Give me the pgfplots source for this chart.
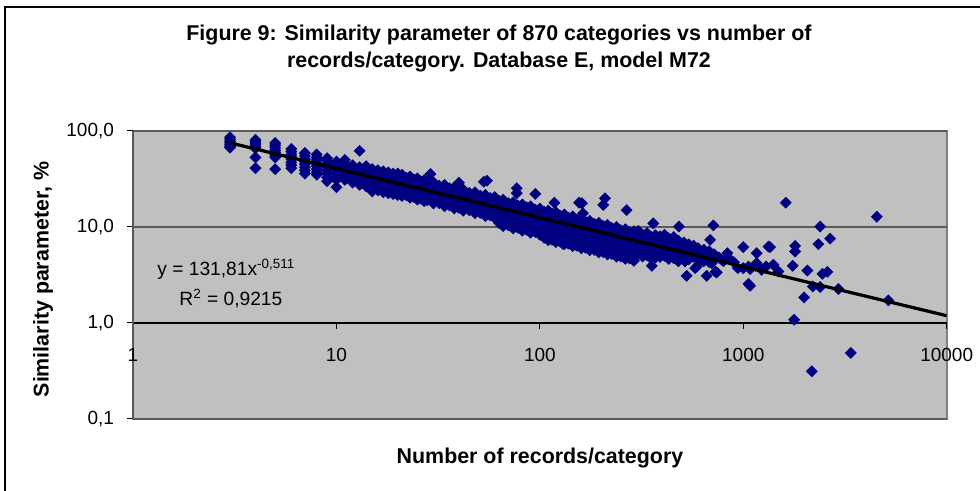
\documentclass[border=0pt]{standalone}
\usepackage{pgfplots}
\pgfplotsset{compat=1.18}
\usepackage{fontspec}
\setmainfont{Liberation Sans}
\definecolor{plotgray}{RGB}{192,192,192}
\definecolor{navymark}{RGB}{0,0,128}
\definecolor{bordergray}{RGB}{128,128,128}
\definecolor{gridgray}{RGB}{90,90,90}

\begin{document}
\begin{tikzpicture}[x=1pt,y=1pt]
\path[use as bounding box] (0,0) rectangle (490,245.5);
% chart frame (cropped on the right and bottom)
\draw[line width=0.8pt] (2.5,0) -- (2.5,242) -- (490,242);

\begin{axis}[
    at={(66.5pt,36pt)}, anchor=south west,
    scale only axis, width=406.85pt, height=144pt,
    xmode=log, ymode=log,
    xmin=1, xmax=10000, ymin=0.1, ymax=100,
    clip marker paths=true,
    axis x line*=middle, axis y line*=left,
    x axis line style={black, line width=0.6pt, -},
    y axis line style={gridgray, line width=0.8pt, -},
    axis background/.style={fill=plotgray, draw=bordergray, line width=0.8pt},
    xtick={1,10,100,1000,10000},
    xticklabels={1,10,100,1000,10000},
    ytick={0.1,1,10,100},
    yticklabels={{0,1},{1,0},{10,0},{100,0}},
    xminorticks=false, yminorticks=false,
    hide obscured x ticks=false, hide obscured y ticks=false,
    tick align=outside,
    major tick length=3pt,
    tick style={black, line width=0.5pt},
    ymajorgrids, major grid style={gridgray, line width=0.6pt},
    tick label style={font=\fontsize{9.5}{11}\selectfont},
    xticklabel style={yshift=-6pt},
    yticklabel style={xshift=-3pt},
]
% categories: records/category vs similarity parameter (%)
\addplot[only marks, mark=square*, mark size=1.9pt,
    mark options={rotate=45, draw=navymark, fill=navymark}] coordinates {
(3,86)(3,82)(3,78)(3,75)(3,72)(3,69)(3,67)
(4,81)(4,77)(4,73)(4,69)(4,66)(4,53)(4,41)
(5,75)(5,71)(5,67)(5,63)(5,60)(5,56)(5,53)(5,40)
(6,65)(6,61)(6,57)(6,54)(6,51)(6,47)(6,44)(6,41)
(7,59)(7,55)(7,51)(7,48)(7,45)(7,42)(7,39)(7,36)
(8,57)(8,53)(8,50)(8,46)(8,43)(8,40)(8,37)(8,35)
(9,52)(9,49)(9,45)(9,42)(9,39)(9,36)(9,33)(9,30)
(10,48)(10,45)(10,42)(10,39)(10,36)(10,33)(10,31)(10,26)
(11,50)(11,46)(11,43)(11,40)(11,37)(11,34)(11,31)
(12,44)(12,41)(12,38)(12,35)(12,32)(12,29)
(13,62)(13,42)(13,39)(13,36)(13,33)(13,30)(13,27.5)
(14,43)(14,40)(14,37)(14,34)(14,31)(14,28)(14,26.5)
(15,40)(15,37)(15,34)(15,31)(15,28)(15,25)(15,23.5)
(16,39)(16,36)(16,33)(16,30)(16,27)(16,24)
(17,38)(17,35)(17,32)(17,29)(17,26)(17,23)
(18,37)(18,34)(18,31)(18,28)(18,25)(18,22.5)
(19,36)(19,33)(19,30)(19,27)(19,24.5)(19,22)
(20,36)(20,33)(20,30)(20,27)(20,24)(20,21.5)
(21,35.0)(21,31.4)(21,28.4)(21,25.6)(21,23.1)(21,21.1)
(22,32.6)(22,29.3)(22,26.4)(22,23.6)(22,21.5)
(23,33.5)(23,30.0)(23,27.1)(23,24.4)(23,22.0)(23,20.2)
(24,31.2)(24,28.1)(24,25.2)(24,22.6)(24,20.5)
(25,32.1)(25,28.7)(25,25.9)(25,23.4)(25,21.1)(25,19.3)
(26,29.9)(26,26.9)(26,24.2)(26,21.7)(26,19.7)
(27,30.8)(27,27.6)(27,24.9)(27,22.5)(27,20.3)(27,18.6)
(28,28.8)(28,25.9)(28,23.3)(28,20.9)(28,19.0)
(29,35.6)
(30,29.2)(30,26.2)(30,23.7)(30,21.3)(30,19.2)(30,17.6)
(32,26.9)(32,24.2)(32,21.8)(32,19.5)(32,17.7)
(34,27.4)(34,24.6)(34,22.2)(34,20.0)(34,18.1)(34,16.5)
(36,25.3)(36,22.8)(36,20.5)(36,18.4)(36,16.7)
(38,25.9)(38,23.2)(38,21.0)(38,18.9)(38,17.1)(38,15.6)
(40,28.9)(40,24.0)(40,21.6)(40,19.4)(40,17.4)(40,15.8)
(42,24.6)(42,22.1)(42,19.9)(42,18.0)(42,16.2)(42,14.8)
(45,22.6)(45,20.4)(45,18.3)(45,16.4)(45,14.9)
(48,23.0)(48,20.6)(48,18.6)(48,16.8)(48,15.1)(48,13.9)
(51,21.2)(51,19.1)(51,17.1)(51,15.4)(51,14.0)
(53,29.6)(55,30.3)
(54,21.6)(54,19.4)(54,17.5)(54,15.8)(54,14.2)(54,13.0)
(57,20.0)(57,18.0)(57,16.2)(57,14.5)(57,13.2)
(60,20.5)(60,18.4)(60,16.6)(60,15.0)(60,13.5)(60,12.4)
(63,18.7)(63,16.7)(63,14.9)(63,13.5)(63,12.2)(63,11.0)
(66,19.2)(66,17.2)(66,15.5)(66,13.9)(66,12.5)(66,11.3)(66,10.2)
(70,17.7)(70,15.8)(70,14.1)(70,12.8)(70,11.6)(70,10.4)
(74,18.1)(74,16.2)(74,14.6)(74,13.2)(74,11.8)(74,10.7)(74,9.65)
(77,25.3)(77,22.5)
(78,16.8)(78,14.9)(78,13.4)(78,12.1)(78,10.9)(78,9.81)
(82,17.2)(82,15.4)(82,13.9)(82,12.5)(82,11.2)(82,10.1)(82,9.15)
(86,16.0)(86,14.2)(86,12.7)(86,11.5)(86,10.4)(86,9.34)
(90,16.4)(90,14.7)(90,13.2)(90,11.9)(90,10.7)(90,9.65)(90,8.73)
(95,22.1)
(95,15.2)(95,13.5)(95,12.1)(95,10.9)(95,9.90)(95,8.87)
(100,15.5)(100,13.9)(100,12.5)(100,11.3)(100,10.1)(100,9.15)(100,8.27)
(105,14.4)(105,13.0)(105,11.7)(105,10.5)(105,9.53)(105,8.55)(105,7.70)
(110,14.8)(110,13.4)(110,12.1)(110,10.9)(110,9.79)(110,8.84)(110,8.00)(110,7.28)
(115,13.8)(115,12.4)(115,11.2)(115,10.0)(115,9.10)(115,8.17)(115,7.35)
(118,17.9)
(120,14.2)(120,12.8)(120,11.5)(120,10.4)(120,9.36)(120,8.45)(120,7.65)(120,6.97)
(126,13.1)(126,11.8)(126,10.7)(126,9.58)(126,8.69)(126,7.80)(126,7.02)
(130,6.67)
(132,13.5)(132,12.2)(132,11.0)(132,9.90)(132,8.92)(132,8.05)(132,7.29)(132,6.64)
(138,12.5)(138,11.3)(138,10.2)(138,9.14)(138,8.29)(138,7.44)(138,6.70)
(145,12.9)(145,11.6)(145,10.5)(145,9.44)(145,8.50)(145,7.67)(145,6.95)(145,6.33)
(152,11.9)(152,10.7)(152,9.72)(152,8.70)(152,7.89)(152,7.08)(152,6.38)
(156,17.9)(161,17.7)(163,13.9)
(160,12.2)(160,11.0)(160,9.96)(160,8.97)(160,8.08)(160,7.29)(160,6.60)(160,6.01)
(168,11.3)(168,10.2)(168,9.23)(168,8.27)(168,7.50)(168,6.73)(168,6.06)
(176,11.6)(176,10.5)(176,9.48)(176,8.54)(176,7.70)(176,6.95)(176,6.29)(176,5.73)
(185,10.8)(185,9.70)(185,8.78)(185,7.87)(185,7.14)(185,6.41)(185,5.77)
(195,11.0)(195,9.98)(195,9.00)(195,8.11)(195,7.31)(195,6.59)(195,5.97)(195,5.43)
(205,17.0)(209,19.9)
(205,10.2)(205,9.21)(205,8.34)(205,7.47)(205,6.77)(205,6.08)(205,5.47)
(215,10.5)(215,9.49)(215,8.56)(215,7.71)(215,6.95)(215,6.27)(215,5.68)(215,5.17)
(226,9.75)(226,8.76)(226,7.93)(226,7.11)(226,6.44)(226,5.78)(226,5.21)
(233,5.42)
(238,9.98)(238,9.01)(238,8.13)(238,7.32)(238,6.60)(238,5.95)(238,5.39)(238,4.91)
(250,9.26)(250,8.32)(250,7.53)(250,6.75)(250,6.12)(250,5.49)(250,4.94)
(258,4.86)(267,15.0)
(263,9.48)(263,8.56)(263,7.72)(263,6.96)(263,6.27)(263,5.66)(263,5.12)(263,4.66)
(276,8.80)(276,7.91)(276,7.16)(276,6.42)(276,5.82)(276,5.22)(276,4.70)
(282,4.74)
(290,9.02)(290,8.15)(290,7.35)(290,6.62)(290,5.96)(290,5.38)(290,4.87)(290,4.44)
(305,9.07)(305,7.94)(305,6.95)(305,6.10)(305,5.32)
(320,8.30)(320,7.26)(320,6.36)(320,5.53)(320,4.91)
(336,8.64)(336,7.56)(336,6.61)(336,5.80)(336,5.06)
(353,7.89)(353,6.91)(353,6.05)(353,5.26)(353,4.67)
(355,3.94)(361,10.9)
(370,8.22)(370,7.19)(370,6.29)(370,5.52)(370,4.82)
(390,8.00)(390,7.06)(390,6.25)(390,5.50)(390,4.88)
(410,8.29)(410,7.31)(410,6.46)(410,5.67)(410,5.00)
(430,7.61)(430,6.72)(430,5.95)(430,5.23)(430,4.64)
(455,7.86)(455,6.93)(455,6.12)(455,5.37)(455,4.74)
(480,7.20)(480,6.35)(480,5.62)(480,4.95)(480,4.39)
(483,10.1)
(510,6.9)(510,6.2)(510,5.5)(510,4.9)
(517,4.37)(527,3.10)
(540,6.6)(540,5.9)(540,5.2)(540,4.6)
(570,6.4)(570,5.6)(570,4.9)
(580,3.73)(591,3.88)
(600,6.0)(600,5.3)(600,4.6)
(640,5.8)(640,5.0)(640,4.4)
(661,3.10)
(680,5.6)(680,4.9)(680,4.3)
(687,7.34)(700,4.20)(713,10.4)(720,5.2)(730,3.41)(741,3.36)(760,4.8)
(784,4.55)(800,4.4)(835,5.34)(860,4.6)(900,4.3)(940,3.73)
(1000,6.17)(1000,3.73)(1060,3.87)(1060,2.56)(1080,3.64)(1080,2.44)
(1150,3.94)(1164,5.34)(1164,4.20)(1230,3.58)(1296,3.88)(1330,6.25)
(1355,6.17)(1406,4.04)(1489,3.44)(1618,17.9)(1750,3.94)(1778,1.08)
(1798,6.36)(1798,5.55)(1991,1.85)(2066,3.52)(2172,0.314)(2197,2.40)
(2340,6.63)(2387,10.1)(2387,2.37)(2449,3.25)(2590,3.41)(2672,7.57)
(2935,2.26)(3377,0.488)(4532,12.8)(5166,1.72)
};
% power trendline y = 131.81 x^-0.511 (straight in log-log)
\addplot[black, line width=1.6pt] coordinates {(3,75.19) (10000,1.1911)};
\end{axis}

\node[font=\fontsize{10.7}{13.5}\selectfont\bfseries, align=center]
  at (249.5,221.25) {Figure 9: Similarity parameter of 870 categories vs number of\\records/category. Database E, model M72};
\node[font=\fontsize{10.7}{13}\selectfont\bfseries] at (270,16.5) {Number of records/category};
\node[font=\fontsize{10.7}{13}\selectfont\bfseries, rotate=90] at (21.5,105.75) {Similarity parameter, \%};
\node[font=\fontsize{9.6}{11}\selectfont, anchor=base west, inner sep=0pt] at (78.5,107.5) {y = 131,81x\textsuperscript{-0,511}};
\node[font=\fontsize{9.6}{11}\selectfont, anchor=base west, inner sep=0pt] at (89.5,92.5) {R\textsuperscript{2} = 0,9215};
\end{tikzpicture}
\end{document}
